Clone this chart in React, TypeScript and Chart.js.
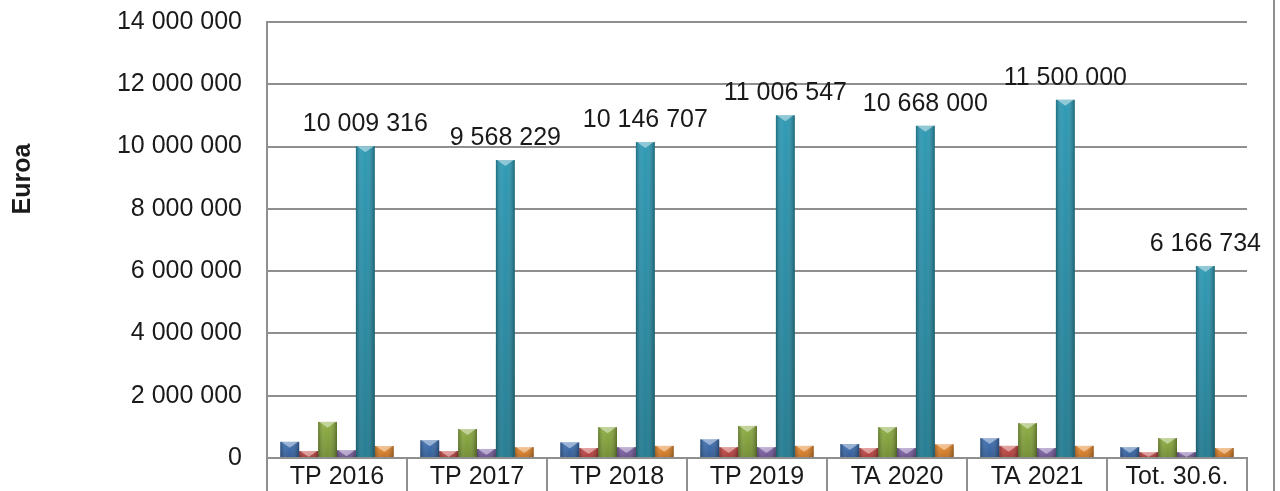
import React, { useEffect, useRef } from "react";
import { Chart, registerables } from "chart.js";

Chart.register(...registerables);

const categories = ["TP 2016", "TP 2017", "TP 2018", "TP 2019", "TA 2020", "TA 2021", "Tot. 30.6."];
const seriesBlue = [520000, 570000, 500000, 600000, 450000, 640000, 350000];
const seriesRed = [225000, 225000, 320000, 350000, 320000, 390000, 190000];
const seriesGreen = [1160000, 930000, 990000, 1030000, 990000, 1120000, 640000];
const seriesPurple = [250000, 290000, 350000, 350000, 320000, 320000, 190000];
const seriesTeal = [10009316, 9568229, 10146707, 11006547, 10668000, 11500000, 6166734];
const seriesOrange = [385000, 350000, 390000, 390000, 440000, 390000, 320000];
const yTicks = [0, 2000000, 4000000, 6000000, 8000000, 10000000, 12000000, 14000000];
const axisTitle = "Euroa";

const FONT = '"Liberation Sans", Arial, sans-serif';
const GRID = "#8f8f8f";
const TEXT = "#1a1a1a";

const fmt = (v: number) => Math.round(v).toString().replace(/\B(?=(\d{3})+(?!\d))/g, " ");

const shadePlugin = {
  id: "shade3d",
  afterDatasetsDraw(chart: any) {
    const ctx = chart.ctx;
    chart.data.datasets.forEach((_: any, di: number) => {
      const meta = chart.getDatasetMeta(di);
      meta.data.forEach((el: any) => {
        const { x, y, base, width } = el.getProps(["x", "y", "base", "width"], true);
        const l = x - width / 2;
        const h = base - y;
        if (h <= 0) return;
        ctx.save();
        const g = ctx.createLinearGradient(l, 0, l + width, 0);
        g.addColorStop(0, "rgba(0,0,0,0.28)");
        g.addColorStop(0.3, "rgba(255,255,255,0.08)");
        g.addColorStop(0.55, "rgba(255,255,255,0.03)");
        g.addColorStop(1, "rgba(0,0,0,0.32)");
        ctx.fillStyle = g;
        ctx.fillRect(l, y, width, h);
        const gv = ctx.createLinearGradient(0, y, 0, base);
        gv.addColorStop(0, "rgba(0,0,0,0)");
        gv.addColorStop(1, "rgba(0,0,0,0.18)");
        ctx.fillStyle = gv;
        ctx.fillRect(l, y, width, h);
        const capH = Math.min(6, h);
        ctx.beginPath();
        ctx.moveTo(l + 1, y);
        ctx.lineTo(l + width - 1, y);
        ctx.lineTo(x, y + capH);
        ctx.closePath();
        ctx.fillStyle = "rgba(255,255,255,0.45)";
        ctx.fill();
        ctx.restore();
      });
    });
  },
};

const decorPlugin = {
  id: "decor",
  afterDraw(chart: any) {
    const ctx = chart.ctx;
    const area = chart.chartArea;
    const n = categories.length;
    const step = (area.right - area.left) / n;
    ctx.save();
    ctx.strokeStyle = GRID;
    ctx.lineWidth = 2;
    for (let i = 0; i <= n; i++) {
      const px = Math.round(area.left + i * step);
      ctx.beginPath();
      ctx.moveTo(px, area.bottom);
      ctx.lineTo(px, chart.height);
      ctx.stroke();
    }
    ctx.beginPath();
    ctx.moveTo(1274, 0);
    ctx.lineTo(1274, chart.height);
    ctx.stroke();
    // data labels on teal series
    const meta = chart.getDatasetMeta(4);
    ctx.fillStyle = TEXT;
    ctx.font = `25px ${FONT}`;
    ctx.textAlign = "center";
    ctx.textBaseline = "alphabetic";
    meta.data.forEach((el: any, i: number) => {
      const { x, y } = el.getProps(["x", "y"], true);
      ctx.fillText(fmt(seriesTeal[i]), x, y - 15);
    });
    // axis title
    ctx.font = `bold 25px ${FONT}`;
    ctx.textBaseline = "middle";
    ctx.translate(23, 179);
    ctx.rotate(-Math.PI / 2);
    ctx.fillText(axisTitle, 0, 0);
    ctx.restore();
  },
};

export default function App() {
  const ref = useRef<HTMLCanvasElement | null>(null);
  useEffect(() => {
    document.body.style.margin = "0";
    const canvas = ref.current;
    if (!canvas) return;
    const mk = (label: string, data: number[], color: string) => ({
      label,
      data,
      backgroundColor: color,
      borderWidth: 0,
      categoryPercentage: 0.81,
      barPercentage: 1,
    });
    const chart = new Chart(canvas, {
      type: "bar",
      data: {
        labels: categories,
        datasets: [
          mk("S1", seriesBlue, "#3D70B5"),
          mk("S2", seriesRed, "#CC4A47"),
          mk("S3", seriesGreen, "#8CAD3F"),
          mk("S4", seriesPurple, "#8466AE"),
          mk("S5", seriesTeal, "#2A97B2"),
          mk("S6", seriesOrange, "#EE8B2C"),
        ],
      },
      options: {
        responsive: false,
        animation: false,
        layout: { padding: { left: 0, right: 33, top: 22, bottom: 0 } },
        plugins: { legend: { display: false }, tooltip: { enabled: false } },
        scales: {
          x: {
            grid: { display: false, drawTicks: false },
            border: { display: true, color: GRID, width: 2 },
            ticks: { font: { family: FONT, size: 25 }, color: TEXT, padding: 4, maxRotation: 0, autoSkip: false },
            afterFit: (s: any) => {
              s.height = 33;
              s.paddingLeft = 0;
              s.paddingRight = 0;
            },
          },
          y: {
            min: 0,
            max: 14000000,
            afterBuildTicks: (s: any) => {
              s.ticks = yTicks.map((v) => ({ value: v }));
            },
            ticks: { font: { family: FONT, size: 25 }, color: TEXT, padding: 25, callback: (v: any) => fmt(Number(v)) },
            grid: { color: GRID, lineWidth: 2, drawTicks: false },
            border: { display: true, color: GRID, width: 2 },
            afterFit: (s: any) => {
              s.width = 267;
              s.paddingTop = 0;
              s.paddingBottom = 0;
            },
          },
        },
      },
      plugins: [shadePlugin, decorPlugin],
    } as any);
    return () => chart.destroy();
  }, []);
  return <canvas ref={ref} width={1280} height={491} style={{ display: "block" }} />;
}
